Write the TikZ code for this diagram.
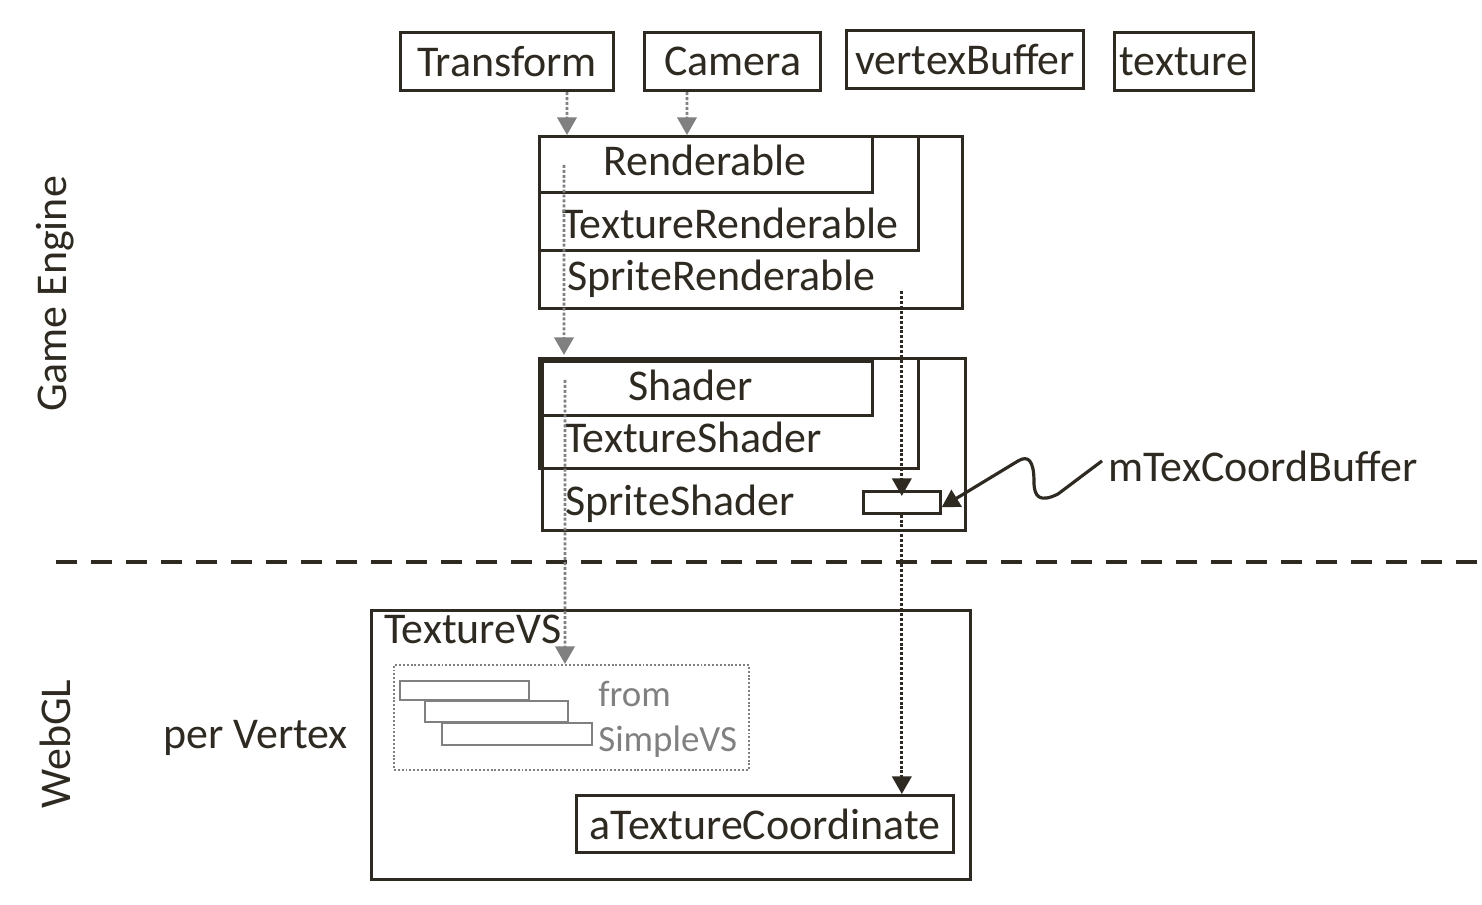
\documentclass[tikz,border=0pt]{standalone}
\usepackage{fontspec}
\setmainfont{Carlito}
\usetikzlibrary{arrows.meta,calc,positioning}

\begin{document}
\begin{tikzpicture}[x=0.02cm, y=-0.02cm, >={Triangle[length=10pt,width=11pt]},
    font=\fontsize{25}{29}\selectfont,
    cls/.style={draw=ink, line width=1.8pt, inner sep=0pt, anchor=north west},
    lbl/.style={inner sep=0pt, anchor=base west, text=ink},
    ghost/.style={draw=grayline, line width=1.4pt, inner sep=0pt, anchor=north west},
    ghosttxt/.style={inner sep=0pt, anchor=base west, text=grayline, font=\fontsize{21}{25}\selectfont},
    grayflow/.style={->, draw=grayline, line width=1.5pt, dash pattern=on 1.7pt off 1.1pt},
    inkflow/.style={->, draw=ink, line width=1.5pt, dash pattern=on 1.7pt off 1.1pt}]

        % Colors of the figure
        \definecolor{ink}{RGB}{46, 42, 34}
        \definecolor{grayline}{RGB}{128, 128, 128}

        \useasboundingbox (0,0) rectangle (1482,905);

        % Objects passed to the renderable
        \node[cls, minimum width=4.26cm, minimum height=1.16cm, text=ink] (transform) at (399,31) {Transform};
        \node[cls, minimum width=3.52cm, minimum height=1.16cm, text=ink] (camera) at (643,31) {Camera};
        \node[cls, minimum width=4.74cm, minimum height=1.16cm, text=ink] (vbuffer) at (845,29) {vertexBuffer};
        \node[cls, minimum width=2.78cm, minimum height=1.16cm, text=ink] (texture) at (1113,31) {texture};

        % Renderable hierarchy
        \node[cls, minimum width=8.46cm, minimum height=3.44cm] (spriteRend) at (538,135) {};
        \node[cls, minimum width=7.58cm, minimum height=2.28cm] (textureRend) at (538,135) {};
        \node[cls, minimum width=6.66cm, minimum height=1.12cm] (rend) at (538,135) {};
        \node[lbl] (rendTxt) at (603,176) {Renderable};
        \node[lbl] (textureRendTxt) at (562,239) {TextureRenderable};
        \node[lbl] (spriteRendTxt) at (567,291) {SpriteRenderable};

        % Shader hierarchy
        \node[cls, minimum width=8.46cm, minimum height=3.44cm] (spriteShad) at (541,357) {};
        \node[cls, minimum width=7.58cm, minimum height=2.2cm] (textureShad) at (538,357) {};
        \node[cls, minimum width=6.6cm, minimum height=1.08cm] (shad) at (541,360) {};
        \node[lbl] (shadTxt) at (628,401) {Shader};
        \node[lbl] (textureShadTxt) at (565,453) {TextureShader};
        \node[lbl] (spriteShadTxt) at (565,516) {SpriteShader};
        \node[cls, line width=1.5pt, minimum width=1.54cm, minimum height=0.44cm] (tcBuf) at (862,490) {};
        \node[lbl] (tcBufTxt) at (1108,482) {mTexCoordBuffer};

        % Separator between engine and WebGL
        \coordinate (sepL) at (56,562);
        \coordinate (sepR) at (1482,562);
        \draw[ink, line width=2.3pt, dash pattern=on 0.42cm off 0.28cm] (sepL) -- (sepR);

        % WebGL vertex shader
        \node[cls, minimum width=11.98cm, minimum height=5.38cm] (webgl) at (370,609) {};
        \node[lbl] (vsTxt) at (384,643) {TextureVS};
        \node[draw=grayline, line width=1.1pt, dash pattern=on 1.1pt off 1.1pt, inner sep=0pt, anchor=north west,
              minimum width=7.1cm, minimum height=2.1cm] (simpleVS) at (393,664) {};
        \node[ghost, minimum width=2.58cm, minimum height=0.38cm] (g1) at (399,680) {};
        \node[ghost, minimum width=2.86cm, minimum height=0.42cm] (g2) at (424,700) {};
        \node[ghost, minimum width=3cm, minimum height=0.44cm] (g3) at (441,722) {};
        \node[ghosttxt] (fromTxt) at (598,706) {from};
        \node[ghosttxt] (simpleTxt) at (598,751) {SimpleVS};
        \node[cls, minimum width=7.54cm, minimum height=1.14cm, text=ink] (atc) at (575,794) {aTextureCoordinate};

        % Side labels
        \node[lbl] (perVertex) at (163,748) {per Vertex};
        \node[text=ink, rotate=90, inner sep=0pt] (engineTxt) at (55,294) {Game Engine};
        \node[text=ink, rotate=90, inner sep=0pt] (webglTxt) at (55,744) {WebGL};

        % Data flow
        \draw[grayflow] ([xshift=3.36cm]transform.south west) -- ([xshift=0.58cm]rend.north west);
        \draw[grayflow] ([xshift=0.88cm]camera.south west) -- ([xshift=2.98cm]rend.north west);
        \draw[grayflow] ([xshift=0.52cm,yshift=-0.6cm]rend.north west) -- ([xshift=0.46cm,yshift=0.04cm]spriteShad.north west);
        \draw[grayflow] ([xshift=0.48cm,yshift=-0.4cm]shad.north west) -- ([xshift=3.44cm]simpleVS.north west);
        \draw[inkflow] ($(tcBuf.north |- spriteRend.south)+(0,-19)$) -- ([yshift=-0.12cm]tcBuf.north);
        \draw[inkflow] (tcBuf.south) -- (tcBuf.south |- atc.north);

        % Pointer to the texture coordinate buffer
        \draw[->, draw=ink, line width=1.8pt] (tcBufTxt.west) ++(-6,-6) -- (1058,494)
            .. controls (1040,503) and (1034,497) .. (1034,482)
            .. controls (1034,460) and (1028,455) .. (1018,461)
            -- ([yshift=-0.1cm]tcBuf.east);

    \end{tikzpicture}
\end{document}
